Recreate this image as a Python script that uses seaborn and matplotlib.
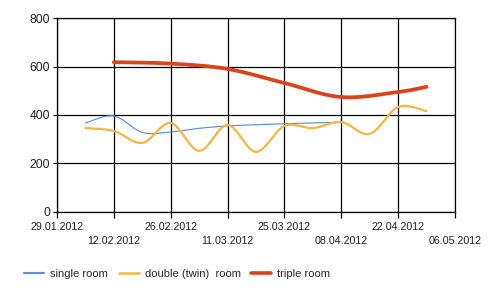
import numpy as np
import pandas as pd
import matplotlib
matplotlib.use("Agg")
import matplotlib.pyplot as plt
import matplotlib.dates as mdates
import seaborn as sns

# ---- data ----
single_dates = ["2012-02-05", "2012-02-12", "2012-02-19", "2012-02-26", "2012-03-04",
                "2012-03-11", "2012-03-18", "2012-03-25", "2012-04-01", "2012-04-08"]
single_vals = [367, 396, 328, 330, 345, 355, 360, 364, 367, 370]

double_dates = ["2012-02-05", "2012-02-12", "2012-02-19", "2012-02-26", "2012-03-04",
                "2012-03-11", "2012-03-18", "2012-03-25", "2012-04-01", "2012-04-08",
                "2012-04-15", "2012-04-22", "2012-04-29"]
double_vals = [346, 334, 285, 367, 252, 359, 248, 355, 346, 371, 322, 433, 416]

triple_dates = ["2012-02-12", "2012-02-26", "2012-03-11", "2012-03-25", "2012-04-08",
                "2012-04-22", "2012-04-29"]
triple_vals = [618, 612, 590, 532, 474, 495, 516]

series_names = ["single room", "double (twin)  room", "triple room"]
tick_dates = ["2012-01-29", "2012-02-12", "2012-02-26", "2012-03-11", "2012-03-25",
              "2012-04-08", "2012-04-22", "2012-05-06"]
tick_labels = ["29.01.2012", "\n12.02.2012", "26.02.2012", "\n11.03.2012", "25.03.2012",
               "\n08.04.2012", "22.04.2012", "\n06.05.2012"]
y_ticks = [0, 200, 400, 600, 800]

colors = ["#5b8fe0", "#f5b541", "#d9441a"]
widths = [0.85, 1.6, 2.7]


def smooth(dates, vals, n=20):
    """Catmull-Rom rendering of the line through the given points (drawing style only)."""
    x = mdates.date2num(pd.to_datetime(dates))
    y = np.asarray(vals, dtype=float)
    xs, ys = [], []
    for i in range(len(x) - 1):
        p0 = (x[i - 1] if i > 0 else x[i], y[i - 1] if i > 0 else y[i])
        p1 = (x[i], y[i])
        p2 = (x[i + 1], y[i + 1])
        p3 = (x[i + 2], y[i + 2]) if i + 2 < len(x) else p2
        t = np.linspace(0, 1, n, endpoint=False)
        for P, out in ((0, xs), (1, ys)):
            a0, a1, a2, a3 = p0[P], p1[P], p2[P], p3[P]
            out.extend(0.5 * ((2 * a1) + (-a0 + a2) * t + (2 * a0 - 5 * a1 + 4 * a2 - a3) * t ** 2
                              + (-a0 + 3 * a1 - 3 * a2 + a3) * t ** 3))
    xs.append(x[-1]); ys.append(y[-1])
    return mdates.num2date(np.array(xs)), np.array(ys)


sns.set_theme(style="white")
plt.rcParams["font.family"] = ["Liberation Sans", "DejaVu Sans"]

fig = plt.figure(figsize=(5.0, 2.96), dpi=100)
ax = fig.add_axes([0.114, 0.284, 0.796, 0.655])

frames = []
for name, d, v in zip(series_names, [single_dates, double_dates, triple_dates],
                      [single_vals, double_vals, triple_vals]):
    xs, ys = smooth(d, v)
    frames.append(pd.DataFrame({"date": pd.to_datetime([t.replace(tzinfo=None) for t in xs]),
                                "value": ys, "series": name}))
df = pd.concat(frames, ignore_index=True)

for name, c, w in zip(series_names, colors, widths):
    sub = df[df["series"] == name]
    sns.lineplot(data=sub, x="date", y="value", ax=ax, color=c, linewidth=w,
                 label=name, sort=False, estimator=None, legend=False, zorder=3)

tk = pd.to_datetime(tick_dates)
ax.set_xlim(tk[0], tk[-1])
ax.set_ylim(0, 800)
ax.set_xticks(tk)
ax.set_xticklabels(tick_labels, fontsize=7.7, color="#222222", linespacing=1.55)
ax.set_yticks(y_ticks)
ax.set_yticklabels([str(v) for v in y_ticks], fontsize=8.7, color="#222222")
ax.grid(True, color="black", linewidth=0.9)
for s in ax.spines.values():
    s.set_color("black")
    s.set_linewidth(0.9)
ax.tick_params(axis="x", length=4, width=0.9, color="black", pad=3, direction="out", bottom=True)
ax.tick_params(axis="y", length=3, width=0.9, color="black", pad=2, left=True)
ax.set_xlabel("")
ax.set_ylabel("")

handles = [plt.Line2D([], [], color=c, linewidth=lw) for c, lw in zip(colors, [1.5, 1.8, 2.6])]
fig.legend(handles, series_names, ncol=3, loc="center left", bbox_to_anchor=(0.028, 0.075),
           frameon=False, fontsize=8.0, handlelength=1.8, handletextpad=0.55, columnspacing=0.95)

fig.savefig("out.png", dpi=100, facecolor="white")
